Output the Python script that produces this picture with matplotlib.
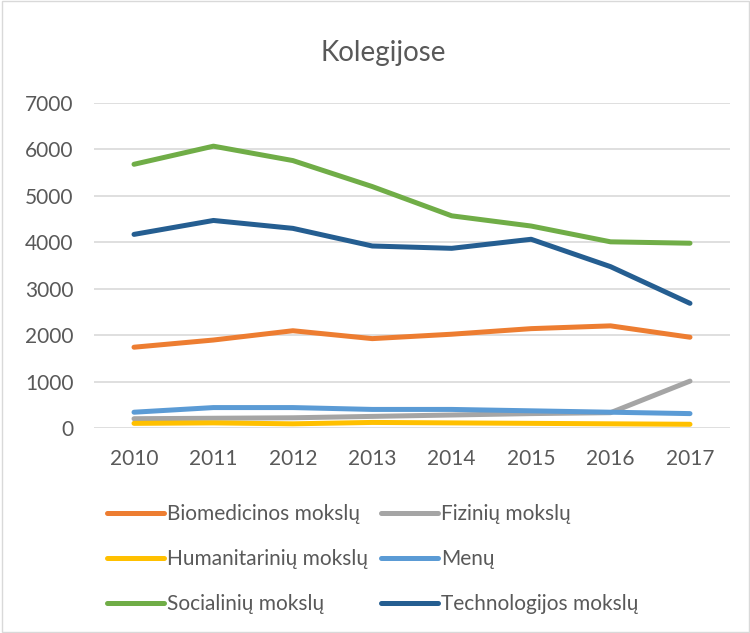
import matplotlib
matplotlib.use("Agg")
import matplotlib.pyplot as plt
from matplotlib.patches import Rectangle

plt.rcParams['font.family'] = ['Lato', 'DejaVu Sans']

years = ["2010", "2011", "2012", "2013", "2014", "2015", "2016", "2017"]
biomedicinos = [1740, 1895, 2095, 1925, 2020, 2140, 2200, 1955]
fiziniu = [200, 210, 220, 250, 280, 310, 330, 1010]
humanitariniu = [100, 110, 90, 120, 110, 100, 90, 80]
menu = [340, 440, 440, 400, 400, 370, 340, 310]
socialiniu = [5680, 6070, 5760, 5200, 4570, 4350, 4010, 3980]
technologijos = [4170, 4470, 4300, 3920, 3870, 4065, 3475, 2685]

names = ["Biomedicinos mokslų", "Fizinių mokslų", "Humanitarinių mokslų",
         "Menų", "Socialinių mokslų", "Technologijos mokslų"]
series = [biomedicinos, fiziniu, humanitariniu, menu, socialiniu, technologijos]
colors = ["#ED7D31", "#A5A5A5", "#FFC000", "#5B9BD5", "#70AD47", "#255E91"]
txt = "#595959"

fig = plt.figure(figsize=(7.5, 6.33), dpi=100)
ax = fig.add_axes([94.3 / 750, 205 / 633, 635.4 / 750, 325 / 633])

x = range(len(years))
lines = {}
for name, vals, c in zip(names, series, colors):
    ln, = ax.plot(x, vals, color=c, lw=3.6, solid_capstyle="round", solid_joinstyle="round")
    lines[name] = ln

ax.set_xlim(-0.5, 7.5)
ax.set_ylim(0, 7000)
ax.set_yticks(range(0, 7001, 1000))
ax.set_xticks(list(x))
ax.set_xticklabels(years)
ax.yaxis.grid(True, color="#D9D9D9", lw=1.2)
ax.set_axisbelow(True)
for s in ax.spines.values():
    s.set_visible(False)
ax.tick_params(length=0, labelsize=15, colors=txt)
ax.tick_params(axis="x", pad=15)
ax.tick_params(axis="y", pad=15)

fig.text(383 / 750, 1 - 61 / 633, "Kolegijose", ha="center", va="baseline",
         fontsize=20, color=txt)

# row-major order like Excel
order = [names[0], names[2], names[4], names[1], names[3], names[5]]
fig.legend([lines[n] for n in order], order, ncol=2, frameon=False,
           loc="upper left", bbox_to_anchor=(107 / 750, 1 - 504 / 633),
           fontsize=15, labelcolor=txt, handlelength=2.75, handletextpad=0.15,
           columnspacing=0.6, labelspacing=1.2, borderaxespad=0, borderpad=0)

fig.patches.append(Rectangle((0.002, 0.002), 0.996, 0.996, transform=fig.transFigure,
                             fill=False, edgecolor="#D9D9D9", lw=1))

fig.savefig("out.png", dpi=100)
